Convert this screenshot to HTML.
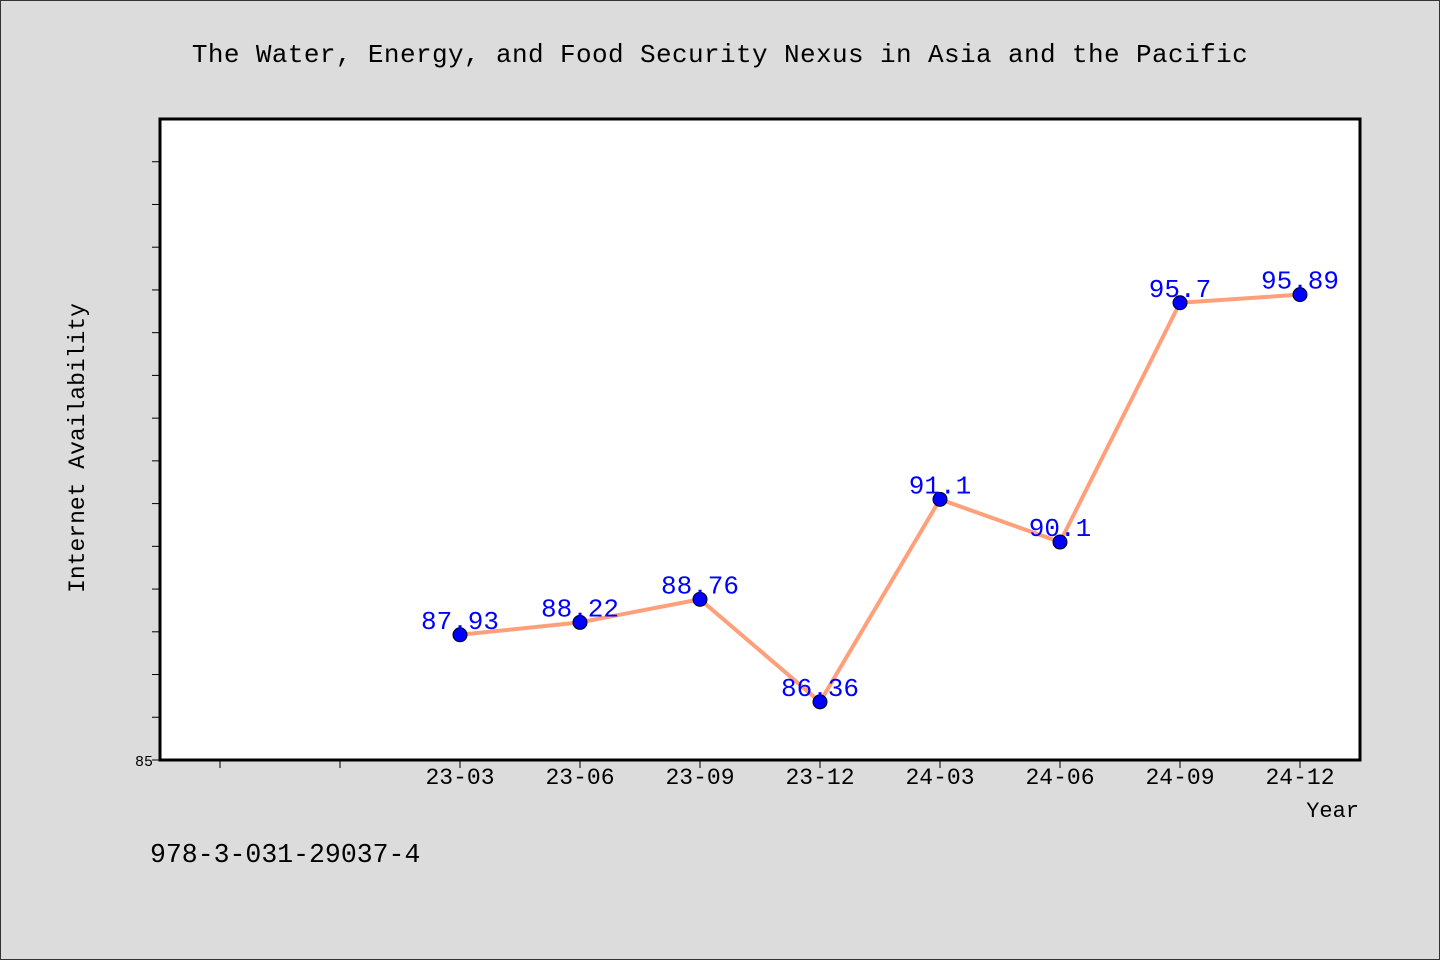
<!DOCTYPE html>
<html><head><meta charset="utf-8"><style>
body{margin:0;background:#dcdcdc;}
svg{display:block;font-family:"Liberation Mono",monospace;}
</style></head><body>
<svg width="1440" height="960">
<rect x="0.5" y="0.5" width="1439" height="959" fill="#dcdcdc" stroke="#333"/>
<text x="720" y="62" text-anchor="middle" font-size="26" letter-spacing="0.4" fill="#000">The Water, Energy, and Food Security Nexus in Asia and the Pacific</text>
<rect x="160" y="119" width="1200" height="641" fill="#fff" stroke="#000" stroke-width="3"/>
<g id="yticks"></g><g id="xticks"></g>
<text transform="translate(84,448) rotate(-90)" text-anchor="middle" font-size="23" fill="#000">Internet Availability</text>
<text x="1359" y="817" text-anchor="end" font-size="22" fill="#000">Year</text>
<text x="150" y="862" font-size="26.5" fill="#000">978-3-031-29037-4</text>
<g id="series"></g>
</svg>
<script>
const categories=["23-03","23-06","23-09","23-12","24-03","24-06","24-09","24-12"];
const values=[87.93,88.22,88.76,86.36,91.1,90.1,95.7,95.89];
const labels=["87.93","88.22","88.76","86.36","91.1","90.1","95.7","95.89"];
const yMin=85,yMax=100;
const NS="http://www.w3.org/2000/svg";
function y(v){return 760-(v-yMin)*(641/(yMax-yMin));}
function x(i){return 460+i*120;}
function mk(t,a,p){const e=document.createElementNS(NS,t);for(const k in a)e.setAttribute(k,a[k]);p.appendChild(e);return e;}
const yt=document.getElementById('yticks');
for(let v=yMin;v<yMax;v++){const l=mk('line',{x1:152,x2:160,y1:y(v),y2:y(v),stroke:'#000'},yt);

}
const yl=mk('text',{x:153,y:766,'text-anchor':'end','font-size':15},yt);yl.textContent=String(yMin);


const xt=document.getElementById('xticks');
for(let i=-2;i<categories.length;i++){const l=mk('line',{x1:x(i),x2:x(i),y1:760,y2:768,stroke:'#000'},xt);


if(i>=0){const t=mk('text',{x:x(i),y:784,'text-anchor':'middle','font-size':23},xt);t.textContent=categories[i];

}}
const s=document.getElementById('series');
const pl=mk('polyline',{points:values.map((v,i)=>x(i)+','+y(v)).join(' '),fill:'none',stroke:'#ffa07a','stroke-width':4},s);


values.forEach((v,i)=>{const c=mk('circle',{cx:x(i),cy:y(v),r:7,fill:'#0000ff',stroke:'#000','stroke-width':1},s);


const t=mk('text',{x:x(i),y:y(v)-6,'text-anchor':'middle','font-size':26,fill:'#0000ff'},s);t.textContent=labels[i];

});
</script>
</body></html>
